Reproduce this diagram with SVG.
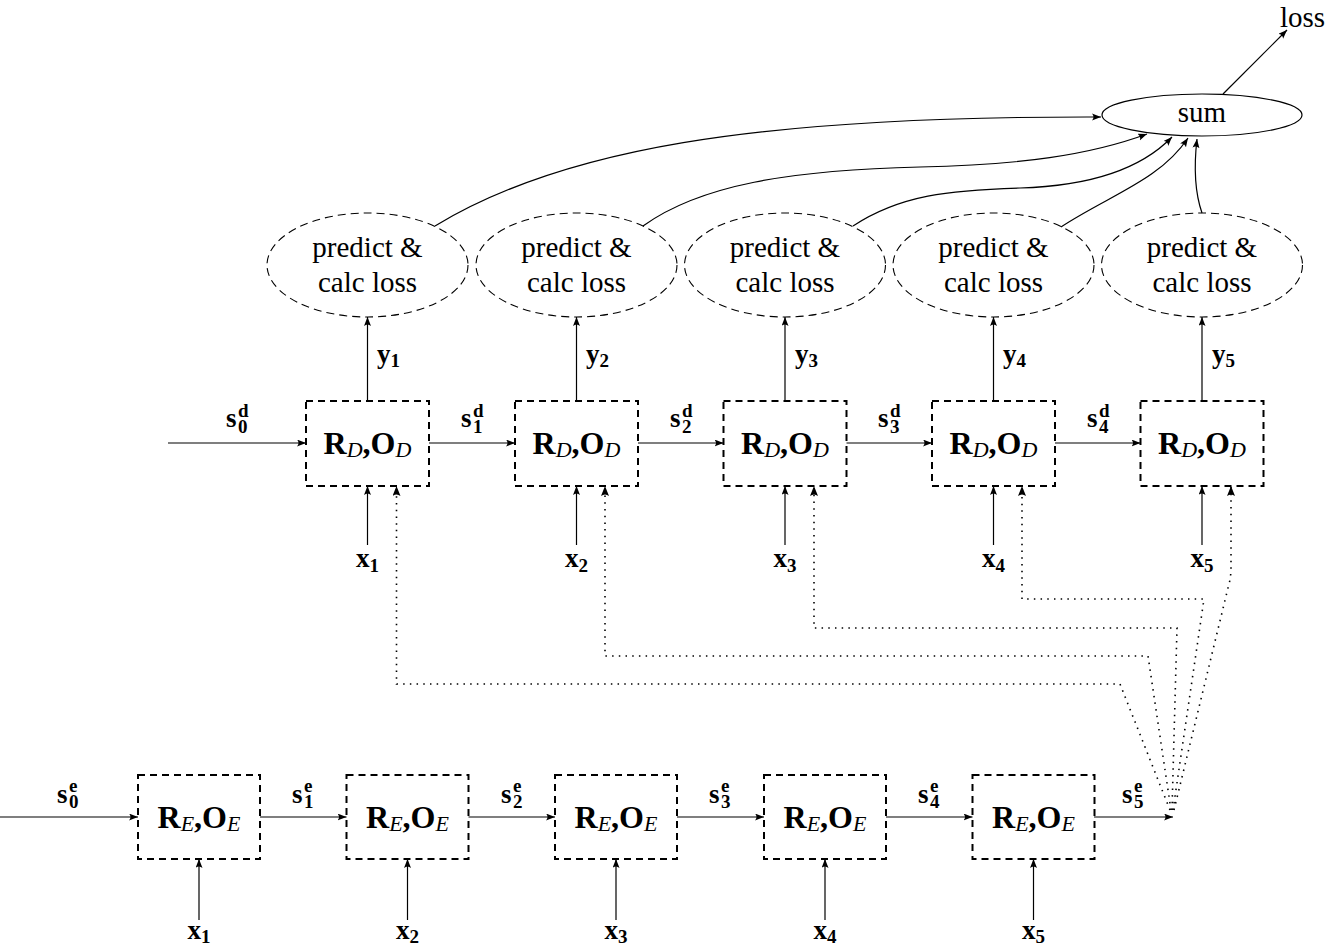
<svg xmlns="http://www.w3.org/2000/svg" width="1329" height="948" viewBox="0 0 1329 948">
<defs>
<marker id="ah" markerUnits="userSpaceOnUse" markerWidth="10" markerHeight="8" refX="9" refY="3.5" orient="auto">
<path d="M0,0 Q3,3.5 0,7 L9,3.5 Z" fill="#000"/>
</marker>
<marker id="ahb" markerUnits="userSpaceOnUse" markerWidth="12" markerHeight="10" refX="10" refY="4" orient="auto">
<path d="M0,0 Q3,4 0,8 L10,4 Z" fill="#000"/>
</marker>
</defs>
<style>
.box{fill:none;stroke:#000;stroke-width:2;stroke-dasharray:7 5}
.ell{fill:none;stroke:#000;stroke-width:1.1;stroke-dasharray:8 5}
.sum{fill:none;stroke:#000;stroke-width:1.2}
.ar{fill:none;stroke:#000;stroke-width:1.2;marker-end:url(#ah)}
.dot{fill:none;stroke:#000;stroke-width:1.6;stroke-dasharray:1.5 5.2;marker-end:url(#ahb)}
.rm{font-family:"Liberation Serif","Times New Roman",serif;font-size:29px;fill:#000}
.bl{font-family:"Liberation Serif","Times New Roman",serif;font-size:27px;font-weight:bold;fill:#000}
.bx{font-family:"Liberation Serif","Times New Roman",serif;font-size:32px;font-weight:bold;fill:#000}
.sb{font-size:19px}
.it{font-style:italic;font-weight:normal;font-size:22px}
</style>

<g id="connectors">
<path class="ar" d="M168,443 H306"/>
<path class="ar" d="M429,443 H515"/>
<path class="ar" d="M638,443 H723.5"/>
<path class="ar" d="M846.5,443 H932"/>
<path class="ar" d="M1055,443 H1140.5"/>
<path class="ar" d="M0,817 H138"/>
<path class="ar" d="M260,817 H346.5"/>
<path class="ar" d="M468.5,817 H555"/>
<path class="ar" d="M677,817 H764"/>
<path class="ar" d="M886,817 H972.5"/>
<path class="ar" d="M1094,817 H1173"/>
<path class="ar" d="M367.5,545 V486"/>
<path class="ar" d="M576.5,545 V486"/>
<path class="ar" d="M785,545 V486"/>
<path class="ar" d="M993.5,545 V486"/>
<path class="ar" d="M1202,545 V486"/>
<path class="ar" d="M199,920 V859"/>
<path class="ar" d="M407.5,920 V859"/>
<path class="ar" d="M616,920 V859"/>
<path class="ar" d="M825,920 V859"/>
<path class="ar" d="M1033.5,920 V859"/>
<path class="ar" d="M367.5,401 V317"/>
<path class="ar" d="M576.5,401 V317"/>
<path class="ar" d="M785,401 V317"/>
<path class="ar" d="M993.5,401 V317"/>
<path class="ar" d="M1202,401 V317"/>
<path class="dot" d="M1170,810 L1120,684 H396.5 V486"/>
<path class="dot" d="M1171,810 L1148,656 H605 V486"/>
<path class="dot" d="M1172,810 L1177,628 H814 V486"/>
<path class="dot" d="M1173,810 L1204,599 H1022 V486"/>
<path class="dot" d="M1174,810 L1228,588 Q1231,578 1231,568 V486"/>
<path class="ar" d="M435,226 C560,150 750,116 1101,117"/>
<path class="ar" d="M643,226 C700,185 790,170 920,167 C1020,165 1090,155 1147,134"/>
<path class="ar" d="M853,226 C900,195 950,190 1020,188 C1090,186 1140,170 1172,137"/>
<path class="ar" d="M1061,227 C1110,195 1160,180 1188,138"/>
<path class="ar" d="M1202,213 C1194,190 1194,165 1197,139"/>
<path class="ar" d="M1223,94 L1287,30"/>
</g>

<g id="dec1"><rect class="box" x="306" y="401" width="123" height="85"/><text class="bx" x="367.5" y="454" text-anchor="middle">R<tspan class="it" dy="3">D</tspan><tspan dy="-3">,O</tspan><tspan class="it" dy="3">D</tspan></text></g>
<g id="dec2"><rect class="box" x="515" y="401" width="123" height="85"/><text class="bx" x="576.5" y="454" text-anchor="middle">R<tspan class="it" dy="3">D</tspan><tspan dy="-3">,O</tspan><tspan class="it" dy="3">D</tspan></text></g>
<g id="dec3"><rect class="box" x="723.5" y="401" width="123" height="85"/><text class="bx" x="785" y="454" text-anchor="middle">R<tspan class="it" dy="3">D</tspan><tspan dy="-3">,O</tspan><tspan class="it" dy="3">D</tspan></text></g>
<g id="dec4"><rect class="box" x="932" y="401" width="123" height="85"/><text class="bx" x="993.5" y="454" text-anchor="middle">R<tspan class="it" dy="3">D</tspan><tspan dy="-3">,O</tspan><tspan class="it" dy="3">D</tspan></text></g>
<g id="dec5"><rect class="box" x="1140.5" y="401" width="123" height="85"/><text class="bx" x="1202" y="454" text-anchor="middle">R<tspan class="it" dy="3">D</tspan><tspan dy="-3">,O</tspan><tspan class="it" dy="3">D</tspan></text></g>

<g id="enc1"><rect class="box" x="138" y="775" width="122" height="84"/><text class="bx" x="199" y="828" text-anchor="middle">R<tspan class="it" dy="3">E</tspan><tspan dy="-3">,O</tspan><tspan class="it" dy="3">E</tspan></text></g>
<g id="enc2"><rect class="box" x="346.5" y="775" width="122" height="84"/><text class="bx" x="407.5" y="828" text-anchor="middle">R<tspan class="it" dy="3">E</tspan><tspan dy="-3">,O</tspan><tspan class="it" dy="3">E</tspan></text></g>
<g id="enc3"><rect class="box" x="555" y="775" width="122" height="84"/><text class="bx" x="616" y="828" text-anchor="middle">R<tspan class="it" dy="3">E</tspan><tspan dy="-3">,O</tspan><tspan class="it" dy="3">E</tspan></text></g>
<g id="enc4"><rect class="box" x="764" y="775" width="122" height="84"/><text class="bx" x="825" y="828" text-anchor="middle">R<tspan class="it" dy="3">E</tspan><tspan dy="-3">,O</tspan><tspan class="it" dy="3">E</tspan></text></g>
<g id="enc5"><rect class="box" x="972.5" y="775" width="122" height="84"/><text class="bx" x="1033.5" y="828" text-anchor="middle">R<tspan class="it" dy="3">E</tspan><tspan dy="-3">,O</tspan><tspan class="it" dy="3">E</tspan></text></g>

<g id="pred1"><ellipse class="ell" cx="367.5" cy="265" rx="100.5" ry="52"/><text class="rm" x="367.5" y="257" text-anchor="middle">predict &amp;</text><text class="rm" x="367.5" y="292" text-anchor="middle">calc loss</text></g>
<g id="pred2"><ellipse class="ell" cx="576.5" cy="265" rx="100.5" ry="52"/><text class="rm" x="576.5" y="257" text-anchor="middle">predict &amp;</text><text class="rm" x="576.5" y="292" text-anchor="middle">calc loss</text></g>
<g id="pred3"><ellipse class="ell" cx="785" cy="265" rx="100.5" ry="52"/><text class="rm" x="785" y="257" text-anchor="middle">predict &amp;</text><text class="rm" x="785" y="292" text-anchor="middle">calc loss</text></g>
<g id="pred4"><ellipse class="ell" cx="993.5" cy="265" rx="100.5" ry="52"/><text class="rm" x="993.5" y="257" text-anchor="middle">predict &amp;</text><text class="rm" x="993.5" y="292" text-anchor="middle">calc loss</text></g>
<g id="pred5"><ellipse class="ell" cx="1202" cy="265" rx="100.5" ry="52"/><text class="rm" x="1202" y="257" text-anchor="middle">predict &amp;</text><text class="rm" x="1202" y="292" text-anchor="middle">calc loss</text></g>

<g id="sum"><ellipse class="sum" cx="1202" cy="115" rx="100" ry="21"/><text class="rm" x="1202" y="122" text-anchor="middle">sum</text></g>
<g id="loss"><text class="rm" x="1280" y="27">loss</text></g>

<g id="labels">
<text class="bl" x="226" y="427">s<tspan class="sb" x="238" y="417">d</tspan><tspan class="sb" x="238" y="433">0</tspan></text>
<text class="bl" x="461" y="427">s<tspan class="sb" x="473" y="417">d</tspan><tspan class="sb" x="473" y="433">1</tspan></text>
<text class="bl" x="670" y="427">s<tspan class="sb" x="682" y="417">d</tspan><tspan class="sb" x="682" y="433">2</tspan></text>
<text class="bl" x="878" y="427">s<tspan class="sb" x="890" y="417">d</tspan><tspan class="sb" x="890" y="433">3</tspan></text>
<text class="bl" x="1087" y="427">s<tspan class="sb" x="1099" y="417">d</tspan><tspan class="sb" x="1099" y="433">4</tspan></text>
<text class="bl" x="57" y="803">s<tspan class="sb" x="69" y="792">e</tspan><tspan class="sb" x="69" y="808">0</tspan></text>
<text class="bl" x="292" y="803">s<tspan class="sb" x="304" y="792">e</tspan><tspan class="sb" x="304" y="808">1</tspan></text>
<text class="bl" x="501" y="803">s<tspan class="sb" x="513" y="792">e</tspan><tspan class="sb" x="513" y="808">2</tspan></text>
<text class="bl" x="709" y="803">s<tspan class="sb" x="721" y="792">e</tspan><tspan class="sb" x="721" y="808">3</tspan></text>
<text class="bl" x="918" y="803">s<tspan class="sb" x="930" y="792">e</tspan><tspan class="sb" x="930" y="808">4</tspan></text>
<text class="bl" x="1122" y="803">s<tspan class="sb" x="1134" y="792">e</tspan><tspan class="sb" x="1134" y="808">5</tspan></text>
<text class="bl" x="367.5" y="567" text-anchor="middle">x<tspan class="sb" dy="5">1</tspan></text>
<text class="bl" x="576.5" y="567" text-anchor="middle">x<tspan class="sb" dy="5">2</tspan></text>
<text class="bl" x="785" y="567" text-anchor="middle">x<tspan class="sb" dy="5">3</tspan></text>
<text class="bl" x="993.5" y="567" text-anchor="middle">x<tspan class="sb" dy="5">4</tspan></text>
<text class="bl" x="1202" y="567" text-anchor="middle">x<tspan class="sb" dy="5">5</tspan></text>
<text class="bl" x="199" y="939" text-anchor="middle">x<tspan class="sb" dy="4">1</tspan></text>
<text class="bl" x="407.5" y="939" text-anchor="middle">x<tspan class="sb" dy="4">2</tspan></text>
<text class="bl" x="616" y="939" text-anchor="middle">x<tspan class="sb" dy="4">3</tspan></text>
<text class="bl" x="825" y="939" text-anchor="middle">x<tspan class="sb" dy="4">4</tspan></text>
<text class="bl" x="1033.5" y="939" text-anchor="middle">x<tspan class="sb" dy="4">5</tspan></text>
<text class="bl" x="377" y="363">y<tspan class="sb" dy="4">1</tspan></text>
<text class="bl" x="586" y="363">y<tspan class="sb" dy="4">2</tspan></text>
<text class="bl" x="795" y="363">y<tspan class="sb" dy="4">3</tspan></text>
<text class="bl" x="1003" y="363">y<tspan class="sb" dy="4">4</tspan></text>
<text class="bl" x="1212" y="363">y<tspan class="sb" dy="4">5</tspan></text>
</g>
</svg>
